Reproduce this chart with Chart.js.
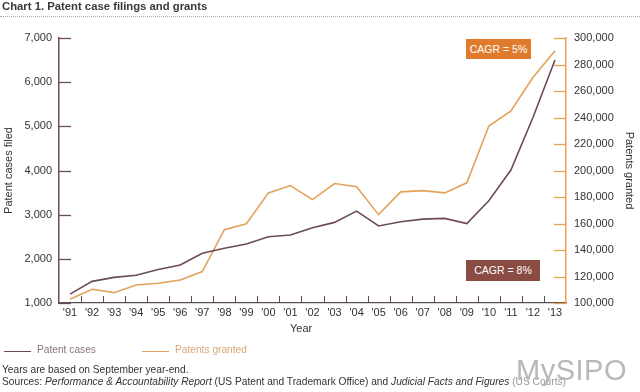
<!DOCTYPE html>
<html>
<head>
<meta charset="utf-8">
<script src="https://cdn.jsdelivr.net/npm/chart.js@4"></script>
<style>
  html, body { margin:0; padding:0; background:#fff; }
  body { width:640px; height:392px; position:relative; overflow:hidden; font-family:"Liberation Sans", Arial, sans-serif; }
  #wrap { position:absolute; left:0; top:0; width:640px; height:392px; }
  .abs { position:absolute; white-space:nowrap; }
  #title { left:2px; top:0px; font-size:11.3px; font-weight:bold; color:#3a3a3a; }
  #dots { left:0; top:16px; width:640px; height:0; border-top:1px dotted #b8a898; }
  #xtitle { left:290px; top:322px; font-size:11px; color:#333; }
  .leg { top:344px; font-size:10.2px; }
  .legline { position:absolute; height:0; top:351px; }
  .foot { left:2px; font-size:10.2px; color:#333; }
  #mysipo { left:516px; top:354px; font-size:29px; color:#b8b8b8; letter-spacing:0.5px; }
  .cagr { color:#fff; font-size:10.5px; text-align:center; }
</style>
</head>
<body>
<div id="wrap"><canvas id="c"></canvas></div>
<div class="abs" id="title">Chart 1. Patent case filings and grants</div>
<div class="abs" id="dots"></div>
<div class="abs" id="xtitle">Year</div>
<div class="legline" style="left:4px;width:27px;border-top:1.5px solid #6b4a5a;"></div>
<div class="abs leg" style="left:37px;color:#8c7280;">Patent cases</div>
<div class="legline" style="left:142px;width:27px;border-top:1.5px solid #e2a25c;"></div>
<div class="abs leg" style="left:175px;color:#d9a877;">Patents granted</div>
<div class="abs foot" style="top:364px;">Years are based on September year-end.</div>
<div class="abs foot" style="top:376px;">Sources: <i>Performance &amp; Accountability Report</i> (US Patent and Trademark Office) and <i>Judicial Facts and Figures</i> <span style="color:#999">(US Courts)</span></div>
<div class="abs" id="mysipo">MySIPO</div>
<div class="abs cagr" style="left:466px;top:39px;width:65px;height:20px;line-height:20px;background:#e07b2e;">CAGR = 5%</div>
<div class="abs cagr" style="left:466px;top:260px;width:74px;height:21px;line-height:21px;background:#8a4b43;">CAGR = 8%</div>
<script>
const years = ["'91","'92","'93","'94","'95","'96","'97","'98","'99","'00","'01","'02","'03","'04","'05","'06","'07","'08","'09","'10","'11","'12","'13"];
const patentCases = [1200,1490,1580,1630,1760,1860,2125,2240,2335,2500,2540,2705,2825,3080,2745,2840,2900,2915,2800,3315,4010,5200,6500];
const patentsGranted = [102800,110400,107800,113600,114900,117400,123700,155300,159800,183100,188600,178000,190200,187700,166700,183900,184800,183100,190700,233600,244900,270200,290400];
const casesTicks = [1000,2000,3000,4000,5000,6000,7000];
const grantedTicks = [100000,120000,140000,160000,180000,200000,220000,240000,260000,280000,300000];

const purple = '#6b4a5a';
const orange = '#e2a25c';
const axisOrange = '#e8a24e';
const tickFont = { family: '"Liberation Sans", Arial, sans-serif', size: 11 };

const innerTicks = {
  id: 'innerTicks',
  afterDraw(chart) {
    const ctx = chart.ctx;
    const x = chart.scales.x, yl = chart.scales.y, yr = chart.scales.y1;
    ctx.save();
    ctx.lineWidth = 1.3;
    ctx.strokeStyle = purple;
    yl.ticks.forEach(t => {
      const py = Math.round(yl.getPixelForValue(t.value)) + 0.5;
      ctx.beginPath(); ctx.moveTo(yl.right, py); ctx.lineTo(yl.right + 12, py); ctx.stroke();
    });
    ctx.strokeStyle = axisOrange;
    yr.ticks.forEach(t => {
      const py = Math.round(yr.getPixelForValue(t.value)) + 0.5;
      ctx.beginPath(); ctx.moveTo(yr.left - 12, py); ctx.lineTo(yr.left, py); ctx.stroke();
    });
    ctx.strokeStyle = '#5a4e50';
    ctx.lineWidth = 1;
    for (let i = 1; i < years.length; i++) {
      const px = Math.round((x.getPixelForValue(i - 1) + x.getPixelForValue(i)) / 2) + 0.5;
      ctx.beginPath(); ctx.moveTo(px, x.top); ctx.lineTo(px, x.top - 7); ctx.stroke();
    }
    ctx.restore();
  }
};

new Chart(document.getElementById('c'), {
  type: 'line',
  data: {
    labels: years,
    datasets: [
      { label: 'Patent cases', data: patentCases, yAxisID: 'y', borderColor: purple, borderWidth: 1.6, pointRadius: 0, tension: 0, fill: false },
      { label: 'Patents granted', data: patentsGranted, yAxisID: 'y1', borderColor: orange, borderWidth: 1.6, pointRadius: 0, tension: 0, fill: false }
    ]
  },
  options: {
    responsive: true,
    maintainAspectRatio: false,
    animation: false,
    layout: { padding: { top: 38, bottom: 53, left: 0, right: 0 } },
    plugins: { legend: { display: false }, tooltip: { enabled: false } },
    scales: {
      x: {
        type: 'category',
        offset: true,
        grid: { display: true, drawOnChartArea: false, drawTicks: false, offset: true },
        border: { display: true, color: '#5a4e50', width: 1.3 },
        ticks: { color: '#333', font: tickFont, padding: 3, maxRotation: 0, autoSkip: false },
        afterFit(s) { s.height = 36; }
      },
      y: {
        position: 'left',
        min: 1000, max: 7000,
        afterBuildTicks(s) { s.ticks = casesTicks.map(v => ({ value: v })); },
        grid: { display: true, drawOnChartArea: false, drawTicks: false },
        border: { display: true, color: purple, width: 1.5 },
        ticks: { color: '#333', font: tickFont, padding: 7 },
        title: { display: true, text: 'Patent cases filed', color: '#333', font: tickFont, padding: { top: 2, bottom: 0 } },
        afterFit(s) { s.width = 59; }
      },
      y1: {
        position: 'right',
        min: 100000, max: 300000,
        afterBuildTicks(s) { s.ticks = grantedTicks.map(v => ({ value: v })); },
        grid: { display: true, drawOnChartArea: false, drawTicks: false },
        border: { display: true, color: axisOrange, width: 1.5 },
        ticks: { color: '#333', font: tickFont, padding: 8 },
        title: { display: true, text: 'Patents granted', color: '#333', font: tickFont, padding: { top: 4, bottom: 0 } },
        afterFit(s) { s.width = 74; }
      }
    }
  },
  plugins: [innerTicks]
});
</script>
</body>
</html>
